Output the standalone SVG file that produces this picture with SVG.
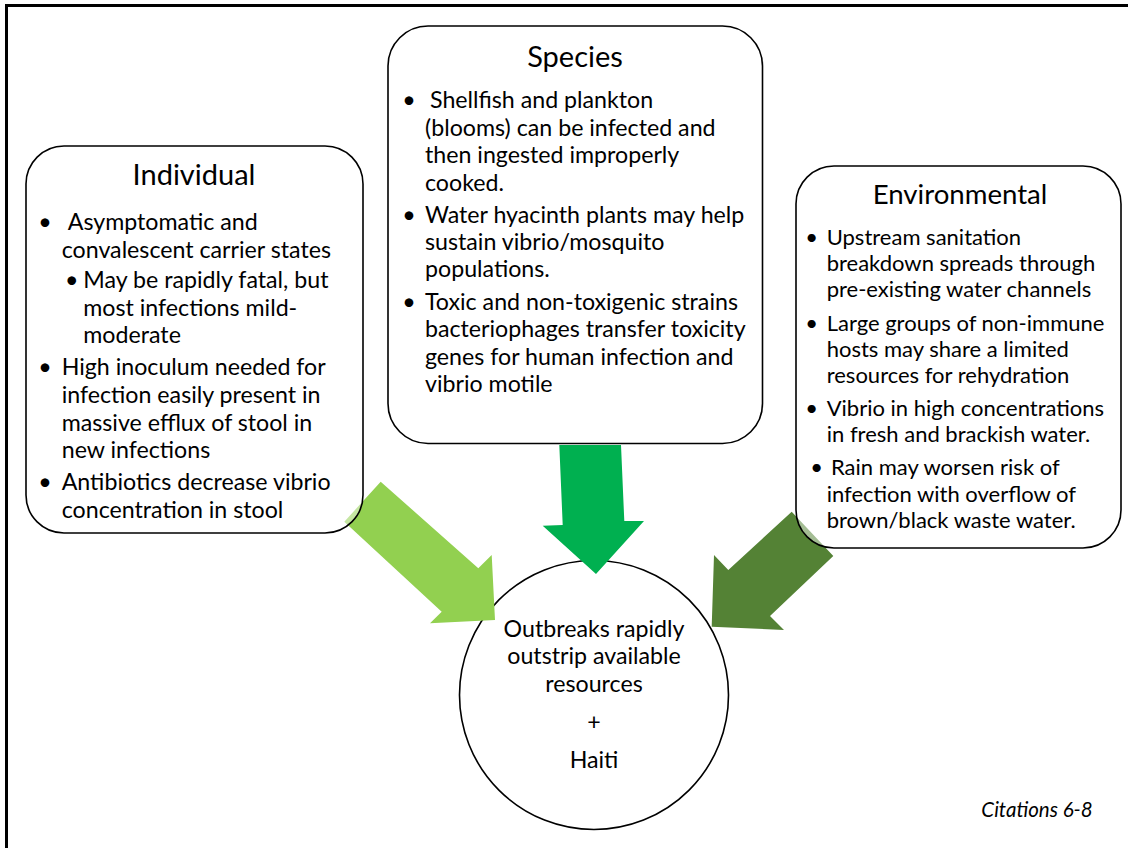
<svg xmlns="http://www.w3.org/2000/svg" width="1128" height="848" viewBox="0 0 1128 848">
<style>
text{font-family:Lato,"Noto Sans",sans-serif;fill:#000}
.ttl{font-size:29px;text-anchor:middle}
.b{font-size:23.2px}
.e{font-size:22px}
.m{text-anchor:middle}
.box{fill:#fff;fill-opacity:0.47;stroke:#000;stroke-width:1.6}
.cite{font-size:20.5px;font-style:italic;text-anchor:end}
</style>
<rect x="6.5" y="5.5" width="1130" height="850" fill="#fff" stroke="#000" stroke-width="3"/>
<g id="outcome">
<circle cx="594" cy="695" r="134.5" fill="#fff" stroke="#000" stroke-width="1.6"/>
<g class="b m">
<text x="594" y="636.7">Outbreaks rapidly</text>
<text x="594" y="664.3">outstrip available</text>
<text x="594" y="691.7">resources</text>
<text x="594" y="730">+</text>
<text x="594" y="767.7">Haiti</text>
</g>
</g>
<g id="connectors">
<polygon points="380.7,481.7 478.3,568.3 491.7,555 495,620 430,623.3 441.7,611.7 344.3,521.7" fill="#92D050"/>
<polygon points="559.3,445 621,445 624.3,521 644,521 596,574 542.7,525.7 562.7,525" fill="#00B050"/>
<polygon points="791.7,511.7 833.3,556 770,616 784,630 711.7,626.7 714,555 728.3,570" fill="#548235"/>
</g>
<g id="individual">
<rect class="box" x="26" y="146" width="337" height="387" rx="38"/>
<text class="ttl" x="194" y="185">Individual</text>
<g class="b">
<text x="45" y="230" class="m">•</text><text x="67.7" y="230">Asymptomatic and</text>
<text x="61.7" y="258.3">convalescent carrier states</text>
<text x="71.7" y="287.7" class="m">•</text><text x="83.3" y="287.7">May be rapidly fatal, but</text>
<text x="83.3" y="315.7">most infections mild-</text>
<text x="83.3" y="343.3">moderate</text>
<text x="45" y="375" class="m">•</text><text x="61.7" y="375">High inoculum needed for</text>
<text x="61.7" y="403.3">infection easily present in</text>
<text x="61.7" y="431">massive efflux of stool in</text>
<text x="61.7" y="458.3">new infections</text>
<text x="45" y="490" class="m">•</text><text x="61.7" y="490">Antibiotics decrease vibrio</text>
<text x="61.7" y="517.7">concentration in stool</text>
</g>
</g>
<g id="species">
<rect class="box" x="388" y="26" width="374.5" height="417.5" rx="40"/>
<text class="ttl" x="575" y="66.7">Species</text>
<g class="b">
<text x="409" y="108.3" class="m">•</text><text x="430" y="108.3">Shellfish and plankton</text>
<text x="425" y="136">(blooms) can be infected and</text>
<text x="425" y="163.3">then ingested improperly</text>
<text x="425" y="190.7">cooked.</text>
<text x="409" y="222.7" class="m">•</text><text x="425" y="222.7">Water hyacinth plants may help</text>
<text x="425" y="250">sustain vibrio/mosquito</text>
<text x="425" y="277.3">populations.</text>
<text x="409" y="310" class="m">•</text><text x="425" y="310">Toxic and non-toxigenic strains</text>
<text x="425" y="337.3">bacteriophages transfer toxicity</text>
<text x="425" y="365">genes for human infection and</text>
<text x="425" y="391.7">vibrio motile</text>
</g>
</g>
<g id="environmental">
<rect class="box" x="796" y="166" width="325" height="382" rx="38"/>
<text class="ttl" x="960" y="204.3" style="font-size:27.6px">Environmental</text>
<g class="e">
<text x="811.7" y="245" class="m">•</text><text x="826.7" y="245">Upstream sanitation</text>
<text x="826.7" y="271">breakdown spreads through</text>
<text x="826.7" y="297.3">pre-existing water channels</text>
<text x="811.7" y="330.7" class="m">•</text><text x="826.7" y="330.7">Large groups of non-immune</text>
<text x="826.7" y="356.7">hosts may share a limited</text>
<text x="826.7" y="383.3">resources for rehydration</text>
<text x="811.7" y="415.7" class="m">•</text><text x="826.7" y="415.7">Vibrio in high concentrations</text>
<text x="826.7" y="442.3">in fresh and brackish water.</text>
<text x="816.7" y="475" class="m">•</text><text x="831" y="475">Rain may worsen risk of</text>
<text x="826.7" y="501.7">infection with overflow of</text>
<text x="826.7" y="528.3">brown/black waste water.</text>
</g>
</g>
<text class="cite" x="1092.7" y="816.7">Citations 6-8</text>
</svg>
